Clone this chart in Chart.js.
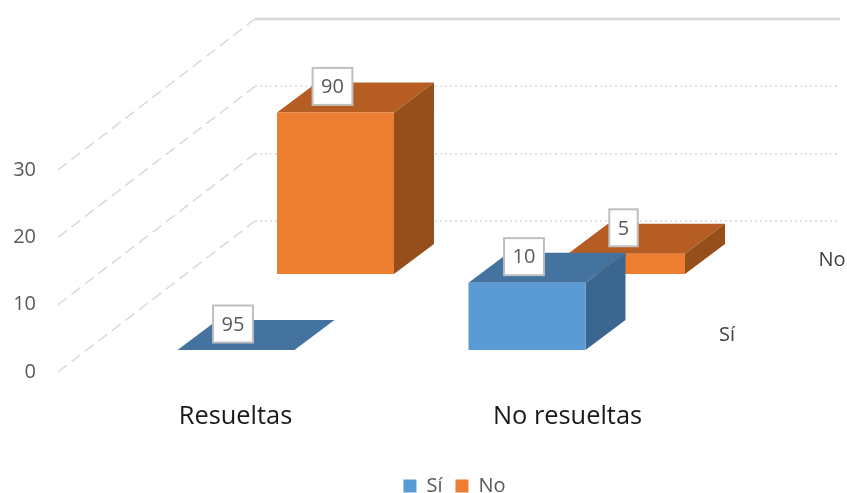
<!DOCTYPE html>
<html>
<head>
<meta charset="utf-8">
<script src="https://cdn.jsdelivr.net/npm/chart.js@4/dist/chart.umd.min.js"></script>
<style>
  html, body { margin: 0; background: #fff; }
  canvas { display: block; }
</style>
</head>
<body>
<canvas id="myChart" width="847" height="493"></canvas>
<script>
const categories = ['Resueltas', 'No resueltas'];
const seriesNames = ['Sí', 'No'];
const siValues = [0, 10];
const noValues = [24, 3];
const siLabels = ['95', '10'];
const noLabels = ['90', '5'];
const yTicks = [0, 10, 20, 30];

const FONT = '"Open Sans", sans-serif';

// 3D look: every series sits deeper in the box
const seriesShift = [{ x: 32.5, y: -22 }, { x: 132, y: -98 }];
const faceColors = [
  { front: '#5B9BD5', top: '#44739F', side: '#3A668F' },
  { front: '#ED7D31', top: '#B55D22', side: '#964F1B' }
];
const barDepth = { x: 40, y: -30 };
const wallDepth = { x: 197, y: -151 };
const wallRight = 840;
const categoryLabelShift = [32, 73];

const box3d = {
  id: 'box3d',
  beforeDatasetsDraw(chart) {
    const ctx = chart.ctx;
    const left = chart.chartArea.left;
    yTicks.forEach((tick, i) => {
      const y = chart.scales.y.getPixelForValue(tick);
      const isTop = i === yTicks.length - 1;
      ctx.save();
      ctx.strokeStyle = '#D9D9D9';
      ctx.lineWidth = 1.5;
      ctx.setLineDash([11, 6]);
      ctx.beginPath();
      ctx.moveTo(left, y);
      ctx.lineTo(left + wallDepth.x, y + wallDepth.y);
      ctx.stroke();
      ctx.setLineDash(isTop ? [] : [2, 3]);
      ctx.lineWidth = isTop ? 2.5 : 1.5;
      ctx.beginPath();
      ctx.moveTo(left + wallDepth.x, y + wallDepth.y);
      ctx.lineTo(wallRight, y + wallDepth.y);
      ctx.stroke();
      ctx.restore();
    });
  },
  beforeDatasetDraw(chart, args) {
    const ctx = chart.ctx;
    const shift = seriesShift[args.index];
    const colors = faceColors[args.index];
    ctx.save();
    ctx.translate(shift.x, shift.y);
    args.meta.data.forEach((bar) => {
      const l = bar.x - bar.width / 2;
      const r = bar.x + bar.width / 2;
      ctx.fillStyle = colors.top;
      ctx.beginPath();
      ctx.moveTo(l, bar.y);
      ctx.lineTo(r, bar.y);
      ctx.lineTo(r + barDepth.x, bar.y + barDepth.y);
      ctx.lineTo(l + barDepth.x, bar.y + barDepth.y);
      ctx.closePath();
      ctx.fill();
      ctx.fillStyle = colors.side;
      ctx.beginPath();
      ctx.moveTo(r, bar.y);
      ctx.lineTo(r + barDepth.x, bar.y + barDepth.y);
      ctx.lineTo(r + barDepth.x, bar.base + barDepth.y);
      ctx.lineTo(r, bar.base);
      ctx.closePath();
      ctx.fill();
    });
  },
  afterDatasetDraw(chart) {
    chart.ctx.restore();
  },
  afterDatasetsDraw(chart) {
    const ctx = chart.ctx;
    ctx.save();
    ctx.textAlign = 'center';
    ctx.textBaseline = 'middle';

    // value labels in their little boxes
    [noLabels, siLabels].forEach((labels, n) => {
      const index = n === 0 ? 1 : 0;
      const shift = seriesShift[index];
      chart.getDatasetMeta(index).data.forEach((bar, i) => {
        ctx.font = '20px ' + FONT;
        const w = ctx.measureText(labels[i]).width + 17;
        const h = 37;
        const cx = bar.x + shift.x - 3;
        const cy = bar.y + shift.y - 26;
        ctx.fillStyle = '#fff';
        ctx.fillRect(cx - w / 2, cy - h / 2, w, h);
        ctx.strokeStyle = '#BFBFBF';
        ctx.lineWidth = 2;
        ctx.strokeRect(cx - w / 2, cy - h / 2, w, h);
        ctx.fillStyle = '#595959';
        ctx.fillText(labels[i], cx, cy + 1);
      });
    });

    // category names
    ctx.font = '25.4px ' + FONT;
    ctx.fillStyle = '#1A1A1A';
    categories.forEach((name, i) => {
      ctx.fillText(name, chart.scales.x.getPixelForTick(i) + categoryLabelShift[i], 417);
    });

    // series names on the depth axis
    ctx.font = '20px ' + FONT;
    ctx.fillStyle = '#404040';
    ctx.fillText(seriesNames[0], 727, 335);
    ctx.fillText(seriesNames[1], 832, 260);
    ctx.restore();
  }
};

const ctx = document.getElementById('myChart').getContext('2d');
new Chart(ctx, {
  type: 'bar',
  data: {
    labels: categories,
    datasets: [
      { label: seriesNames[0], data: siValues, backgroundColor: faceColors[0].front, clip: false },
      { label: seriesNames[1], data: noValues, backgroundColor: faceColors[1].front, clip: false }
    ]
  },
  options: {
    responsive: false,
    animation: false,
    devicePixelRatio: 1,
    layout: { padding: { left: 0, right: -62, top: 170, bottom: -13 } },
    datasets: { bar: { grouped: false, barPercentage: 0.402, categoryPercentage: 1 } },
    plugins: {
      tooltip: { enabled: false },
      legend: {
        position: 'bottom',
        labels: {
          boxWidth: 13,
          boxHeight: 13,
          padding: 13,
          color: '#595959',
          font: { family: FONT, size: 20 }
        }
      }
    },
    scales: {
      x: {
        grid: { display: false },
        border: { display: false },
        ticks: { display: false },
        afterFit: (scale) => { scale.height = 91; }
      },
      y: {
        min: 0,
        max: 30,
        grid: { display: false },
        border: { display: false },
        ticks: {
          stepSize: 10,
          padding: 14,
          color: '#595959',
          font: { family: FONT, size: 20 }
        },
        afterFit: (scale) => { scale.width = 58; }
      },
      depth: {
        type: 'category',
        labels: seriesNames,
        position: 'right',
        grid: { display: false },
        border: { display: false },
        ticks: { display: false },
        afterFit: (scale) => { scale.width = 269; }
      }
    }
  },
  plugins: [box3d]
});
</script>
</body>
</html>
